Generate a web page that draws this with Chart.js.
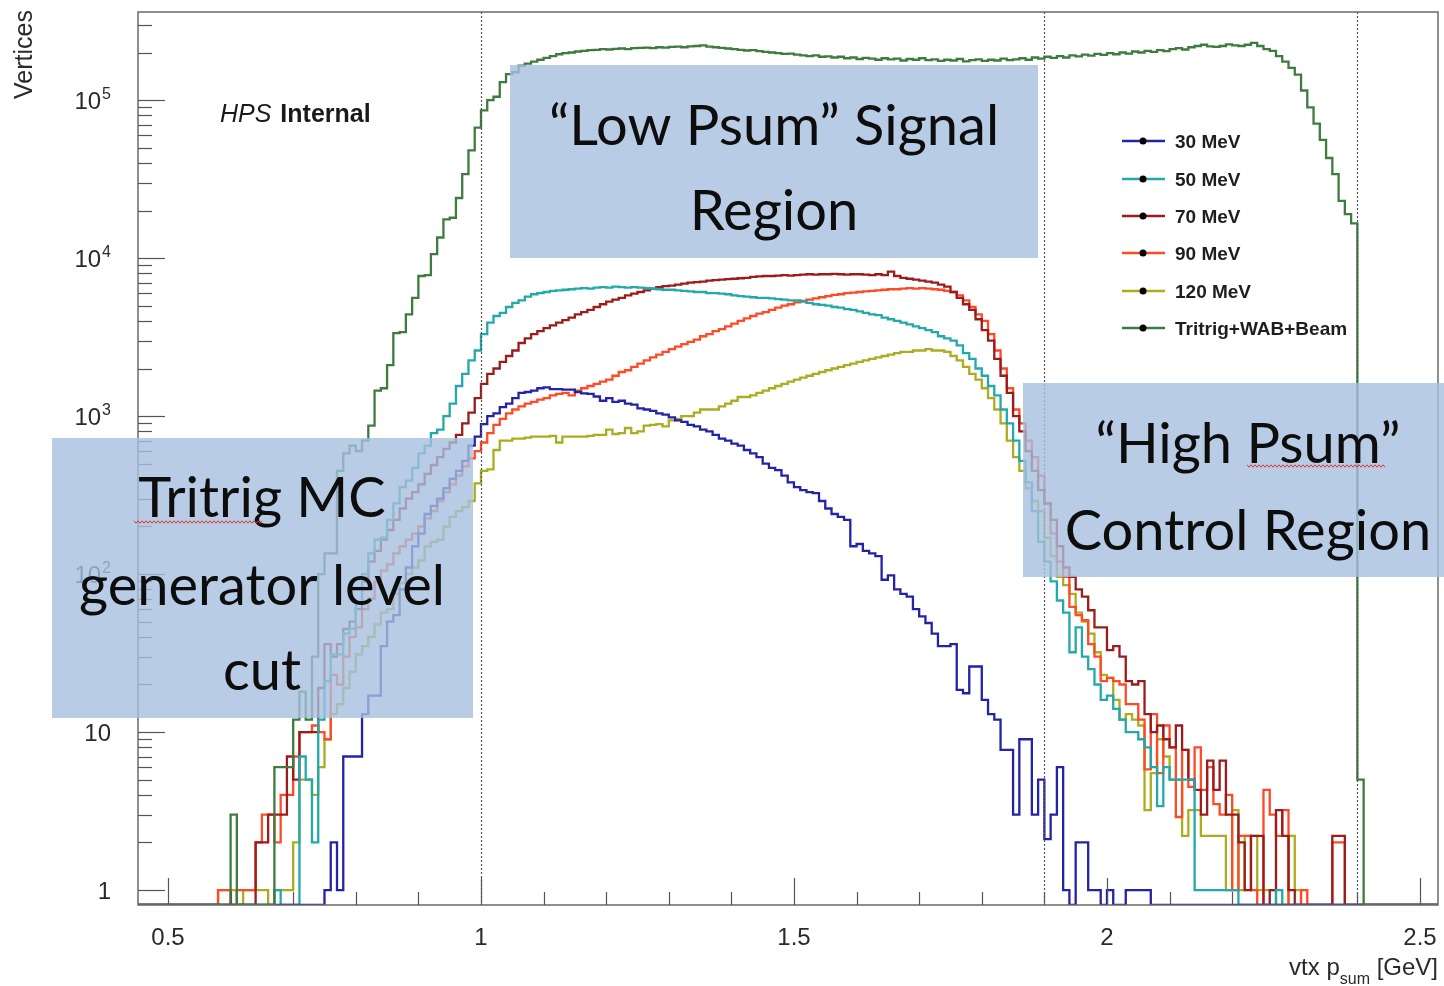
<!DOCTYPE html>
<html lang="en">
<head>
<meta charset="UTF-8">
<title>vtx psum</title>
<script src="https://cdn.jsdelivr.net/npm/chart.js"></script>
<style>
  html, body { margin: 0; padding: 0; background: #fff; }
  canvas { display: block; }
</style>
</head>
<body>
<canvas id="grafico" width="1444" height="986" style="width:1444px;height:986px"></canvas>
<script>
// histogram binning: bin i covers [binStart + i*binWidth, binStart + (i+1)*binWidth)
const binStart = 0.55;
const binWidth = 0.01;

const seriesNames = ['30 MeV', '50 MeV', '70 MeV', '90 MeV', '120 MeV', 'Tritrig+WAB+Beam'];
const seriesColors = ['#2323a6', '#22a9a9', '#9c1c1c', '#ff4a26', '#acac1e', '#3e7b3e'];

// rows of 10 bins, first bin of each row in the comment
const mev30 = [
  0,0,0,0,0,0,0,0,0,0,                                   // 0.55
  0,0,0,0,0,0,0,0,0,0,                                   // 0.65
  1,2,1,7,7,7,13,17,17,35,                               // 0.75
  50,55,80,110,150,180,240,270,300,350,                  // 0.85
  400,450,520,650,740,890,1000,1040,1140,1200,           // 0.95
  1300,1400,1420,1450,1500,1520,1480,1480,1470,1470,     // 1.05
  1420,1390,1380,1330,1250,1300,1230,1250,1200,1180,     // 1.15
  1120,1100,1080,1040,1020,980,940,920,880,860,          // 1.25
  820,800,760,720,700,670,650,610,580,550,               // 1.35
  500,470,455,420,380,355,340,330,325,290,               // 1.45
  260,240,230,220,150,155,140,135,130,92,                // 1.55
  98,80,75,72,60,54,49,42,35,35,                         // 1.65
  36,18.5,17.6,26,26,16,13,12,7.7,7.7,                   // 1.75
  3,9,9,3,5,2.1,3,6,1,0,                                 // 1.85
  2,2,1,1,0,1,0,0,1,1,                                   // 1.95
  1,1,0,0,0,0,0,0,0,0,                                   // 2.05
  0,0,0,0,0,0,0,0,0,0,                                   // 2.15
  0,0,0,0,0,0,0,0,0,0,                                   // 2.25
  0,0,0,0,0,0,0,0,0,0                                    // 2.35
];

const mev50 = [
  0,0,0,0,0,0,0,0,0,0,
  0,0,1,0,0,0,7,5,2,12,
  21,31,31,42,45,65,100,135,165,170,
  220,280,355,390,470,580,650,780,820,1000,
  1200,1550,1850,2250,2600,3300,3900,4300,4500,4900,
  5200,5400,5700,5900,6000,6100,6200,6250,6300,6350,
  6400,6450,6400,6500,6550,6500,6600,6550,6500,6550,
  6500,6450,6400,6350,6300,6300,6250,6200,6150,6100,
  6100,6000,6000,5950,5900,5800,5750,5700,5650,5600,
  5600,5550,5500,5450,5400,5400,5300,5200,5100,5050,
  5000,4900,4850,4750,4700,4600,4500,4400,4350,4200,
  4100,4000,3900,3800,3700,3600,3500,3400,3200,3100,
  3000,2800,2500,2300,2000,1800,1550,1350,1100,900,
  700,520,380,250,160,120,90,68,57,32,
  46,30,25,20,16,17,14,12,10,10,
  9,8,6,3.4,6,5,5,5,5,1,
  1,1,1,1,1,1,0,0,0,0,
  0,0,1,0,0,0,0,0,0,0,
  0,0,0,0,0,0,0,0,0,0
];

const mev70 = [
  0,0,0,0,0,0,0,0,0,2,
  2,3,3,3,7,5,10,10,10,19,
  36,30,36,45,50,60,90,120,140,165,
  190,220,260,300,330,370,430,490,550,620,
  680,760,900,1050,1300,1600,1850,2000,2200,2400,
  2600,2900,3100,3300,3450,3600,3750,3900,4050,4200,
  4400,4550,4700,4900,5100,5300,5450,5600,5800,5950,
  6100,6250,6400,6550,6650,6700,6800,6900,7000,7050,
  7100,7200,7250,7300,7350,7400,7450,7500,7600,7650,
  7700,7700,7750,7800,7750,7800,7850,7900,7850,7900,
  7900,7950,7900,7850,7900,7900,7850,7800,7900,7800,
  8200,7700,7500,7400,7300,7200,7100,7000,6800,6600,
  6100,5600,5100,4700,4100,3500,3000,2300,1800,1400,
  1000,800,600,450,340,280,220,150,110,96,
  80,72,59,46,46,33,35,30,21,20,
  21,13,10,11,9,8,11,7.7,5,4.3,
  3,6.6,4.3,6.6,3,3,2,1,2.2,2.2,
  0,1,3.2,2.2,1,0,0,0,0,0,
  0,2.2,2.2,0,0,0,0,0,0,0
];

const mev90 = [
  0,0,0,1,1,0,1,1,1,2,
  3,3,2,4,4,7,10,10,11,10,
  9,23,20,30,40,46,60,70,90,105,
  115,135,150,165,180,200,225,250,290,330,
  370,420,480,540,600,680,780,880,960,1040,
  1100,1150,1200,1230,1270,1300,1350,1380,1400,1350,
  1450,1500,1550,1600,1650,1700,1800,1900,1950,2050,
  2150,2250,2350,2450,2550,2650,2750,2850,2950,3050,
  3200,3300,3450,3550,3700,3850,4000,4150,4300,4450,
  4550,4700,4850,5000,5100,5250,5350,5450,5550,5650,
  5750,5850,5900,6000,6050,6100,6150,6200,6250,6300,
  6350,6350,6400,6450,6400,6450,6400,6350,6300,6200,
  6100,5800,5400,4900,4400,4000,3300,2600,2000,1500,
  1100,900,700,550,420,280,180,120,96,62,
  55,51,36,30,21,22,21,20,15,15,
  12,5.8,13,5.5,11,8,2.9,7.7,4.5,8,
  4.3,6,3.5,3,4,1,2.2,2.2,1,0,
  4.3,3,2.2,3.2,0,0,1,0,0,0,
  0,2,2,0,0,0,0,0,0,0
];

const mev120 = [
  0,0,0,1,1,1,0,1,1,1,
  1,0,1,1,1,2,5,5,4,6,
  9,13,15,19,24,31,35,40,48,57,
  60,75,88,100,110,122,150,160,165,200,
  230,250,265,290,375,450,460,610,700,700,
  720,720,730,740,740,740,750,680,740,740,
  740,740,750,760,760,820,770,780,840,780,
  800,870,880,890,860,940,960,1000,1000,1050,
  1100,1100,1100,1150,1200,1250,1320,1320,1350,1400,
  1450,1500,1550,1600,1650,1700,1750,1800,1850,1900,
  1950,2000,2050,2100,2150,2200,2250,2300,2350,2400,
  2450,2500,2550,2550,2600,2600,2650,2600,2600,2550,
  2400,2250,2050,1850,1700,1500,1300,1100,900,700,
  550,450,350,290,250,170,130,96,85,75,
  57,50,42,32,23,22,16,12,13,12,
  11,3.2,5.5,9,7,5,5,2.2,3.2,3.2,
  2.2,2.2,2.2,2.2,1,3.2,1,2.2,2.2,1,
  1,1,0,0,2.2,1,0,0,0,0,
  0,0,0,0,0,0,0,0,0,0
];

const background = [
  0,0,0,0,0,3,0,0,0,0,
  0,0,6,6,6,12,18,12,30,100,
  135,135,450,580,650,600,700,870,1450,1500,
  2100,3350,3400,4400,5600,7700,7800,10600,13500,17600,
  18000,24000,34000,48000,67000,86000,100000,105000,130000,146000,
  150000,165000,170000,175000,180000,185000,190000,195000,198000,200000,
  203000,205000,207000,208000,210000,209000,211000,212000,210000,213000,
  214000,215000,213000,216000,215000,217000,218000,216000,219000,220000,
  222000,218000,216000,214000,212000,210000,208000,206000,207000,204000,
  202000,200000,198000,196000,197000,194000,192000,190000,192000,188000,
  189000,186000,188000,184000,186000,182000,185000,183000,180000,184000,
  181000,183000,178000,182000,180000,184000,179000,181000,177000,180000,
  178000,182000,176000,179000,181000,177000,180000,178000,183000,179000,
  181000,184000,180000,186000,183000,188000,185000,190000,186000,192000,
  189000,194000,191000,196000,193000,198000,195000,200000,197000,203000,
  200000,205000,202000,207000,204000,210000,213000,209000,216000,220000,
  224000,219000,217000,220000,225000,222000,220000,224000,230000,220000,
  210000,205000,190000,175000,160000,145000,115000,90000,71000,56000,
  43000,34000,23000,19000,16600,5,0,0,0,0
];

const allSeries = [mev30, mev50, mev70, mev90, mev120, background];

// axis range and region boundaries
const X_MIN = 0.4521, X_MAX = 2.5288;
const Y_MIN = 0.804, Y_MAX = 3.61e5;
const xTickLabels = ['0.5', '1', '1.5', '2', '2.5'];
const regionCuts = [1.0, 1.9, 2.4];

const boxes = [
  { x: 510, y: 65, w: 528, h: 193, cx: 774, lines: [['\u201CLow Psum\u201D Signal', 145], ['Region', 230]] },
  { x: 1023, y: 383, w: 421, h: 194, cx: 1248, lines: [['\u201CHigh Psum\u201D', 463], ['Control Region', 550]] },
  { x: 52, y: 438, w: 421, h: 280, cx: 262, lines: [['Tritrig MC', 517], ['generator level', 605], ['cut', 690]] }
];

function histPoints(values) {
  const pts = [{ x: X_MIN, y: Y_MIN }];
  values.forEach((v, i) => pts.push({ x: binStart + i * binWidth, y: Math.max(v, Y_MIN) }));
  pts.push({ x: binStart + values.length * binWidth, y: Y_MIN });
  pts.push({ x: X_MAX, y: Y_MIN });
  return pts;
}

// background first so it is drawn on top
const order = [5, 0, 1, 2, 3, 4];
const datasets = order.map(k => ({
  label: seriesNames[k],
  data: histPoints(allSeries[k]),
  borderColor: seriesColors[k],
  borderWidth: 2.3,
  stepped: 'before',
  pointRadius: 0,
  fill: false
}));

const SANS = '"Liberation Sans", Arial, Helvetica, sans-serif';

function line(ctx, x1, y1, x2, y2) {
  ctx.beginPath(); ctx.moveTo(x1, y1); ctx.lineTo(x2, y2); ctx.stroke();
}

function wavy(ctx, x1, x2, y) {
  ctx.save();
  ctx.strokeStyle = '#e0322a'; ctx.lineWidth = 1;
  ctx.beginPath();
  for (let px = x1, k = 0; px <= x2; px += 2, k++) {
    const py = y + (k % 2 === 0 ? -1.2 : 1.2);
    if (k === 0) ctx.moveTo(px, py); else ctx.lineTo(px, py);
  }
  ctx.stroke();
  ctx.restore();
}

const rootStyle = {
  id: 'rootStyle',
  afterDatasetsDraw(chart) {
    const { ctx, chartArea: a, scales: { x, y } } = chart;
    ctx.save();

    // region boundaries
    ctx.strokeStyle = '#555'; ctx.lineWidth = 1.2; ctx.setLineDash([2, 2]);
    regionCuts.forEach(v => {
      const px = Math.round(x.getPixelForValue(v)) + 0.5;
      line(ctx, px, a.top, px, a.bottom);
    });
    ctx.setLineDash([]);

    // frame
    ctx.strokeStyle = '#6a6a6a'; ctx.lineWidth = 1.5;
    ctx.strokeRect(a.left, a.top, a.right - a.left, a.bottom - a.top);

    // x ticks
    ctx.strokeStyle = '#555'; ctx.lineWidth = 1.2;
    for (let k = 5; k <= 25; k++) {
      const px = Math.round(x.getPixelForValue(k / 10)) + 0.5;
      line(ctx, px, a.bottom, px, a.bottom - (k % 5 === 0 ? 27 : 13));
    }
    // y ticks
    for (let e = 0; e <= 5; e++) {
      for (let m = 1; m <= 9; m++) {
        const v = m * Math.pow(10, e);
        if (v < Y_MIN || v > Y_MAX) continue;
        const py = Math.round(y.getPixelForValue(v)) + 0.5;
        line(ctx, a.left, py, a.left + (m === 1 ? 27 : 14), py);
      }
    }

    // tick labels
    ctx.fillStyle = '#2a2a2a';
    ctx.font = '24px ' + SANS;
    ctx.textAlign = 'center'; ctx.textBaseline = 'alphabetic';
    xTickLabels.forEach(t => ctx.fillText(t, x.getPixelForValue(parseFloat(t)), 945));

    for (let e = 0; e <= 5; e++) {
      const py = y.getPixelForValue(Math.pow(10, e));
      const right = 111;
      ctx.textAlign = 'right';
      ctx.font = '24px ' + SANS;
      if (e === 0) { ctx.fillText('1', right, py + 9); continue; }
      if (e === 1) { ctx.fillText('10', right, py + 9); continue; }
      ctx.font = '16px ' + SANS;
      const wExp = ctx.measureText(String(e)).width;
      ctx.fillText(String(e), right, py - 1);
      ctx.font = '24px ' + SANS;
      ctx.fillText('10', right - wExp - 1, py + 9);
    }

    // axis titles
    ctx.save();
    ctx.translate(32, 10); ctx.rotate(-Math.PI / 2);
    ctx.textAlign = 'right'; ctx.font = '25px ' + SANS;
    ctx.fillText('Vertices', 0, 0);
    ctx.restore();

    ctx.textAlign = 'left';
    ctx.font = '24px ' + SANS;
    const w1 = ctx.measureText('vtx p').width;
    const w3 = ctx.measureText(' [GeV]').width;
    ctx.font = '16px ' + SANS;
    const w2 = ctx.measureText('sum').width;
    let tx = a.right - (w1 + w2 + w3);
    ctx.font = '24px ' + SANS;
    ctx.fillText('vtx p', tx, 975);
    ctx.font = '16px ' + SANS;
    ctx.fillText('sum', tx + w1, 984);
    ctx.font = '24px ' + SANS;
    ctx.fillText(' [GeV]', tx + w1 + w2, 975);

    // highlighted regions
    boxes.forEach(b => {
      ctx.fillStyle = 'rgba(166, 191, 222, 0.8)';
      ctx.fillRect(b.x, b.y, b.w, b.h);
    });
    ctx.fillStyle = '#0d0d0d';
    ctx.textAlign = 'center';
    ctx.font = '56px Lato, "Open Sans", sans-serif';
    boxes.forEach(b => b.lines.forEach(([t, by]) => ctx.fillText(t, b.cx, by)));
    wavy(ctx, 134, 262, 522);
    wavy(ctx, 1247, 1386, 466);

    // HPS Internal
    ctx.textAlign = 'left'; ctx.fillStyle = '#1a1a1a';
    ctx.font = 'italic 25px ' + SANS;
    ctx.fillText('HPS', 220, 122);
    const wh = ctx.measureText('HPS ').width;
    ctx.font = 'bold 25px ' + SANS;
    ctx.fillText('Internal', 220 + wh + 2, 122);

    // legend
    const rowY = [141, 179, 216, 253, 291, 328];
    seriesNames.forEach((name, k) => {
      const ly = rowY[k];
      ctx.strokeStyle = seriesColors[k]; ctx.lineWidth = 2.5;
      line(ctx, 1122, ly, 1165, ly);
      ctx.fillStyle = '#000';
      ctx.beginPath(); ctx.arc(1143, ly, 3.5, 0, Math.PI * 2); ctx.fill();
      ctx.fillStyle = '#1e1e1e';
      ctx.font = 'bold 19px ' + SANS;
      ctx.fillText(name, 1175, ly + 7);
    });

    ctx.restore();
  }
};

const ctx = document.getElementById('grafico').getContext('2d');
const chart = new Chart(ctx, {
  type: 'line',
  data: { datasets },
  options: {
    responsive: false,
    animation: false,
    devicePixelRatio: 1,
    layout: { padding: { left: 138, top: 12, right: 6, bottom: 81 } },
    scales: {
      x: { type: 'linear', min: X_MIN, max: X_MAX, display: false },
      y: { type: 'logarithmic', min: Y_MIN, max: Y_MAX, display: false }
    },
    plugins: { legend: { display: false }, tooltip: { enabled: false } },
    elements: { line: { tension: 0 }, point: { radius: 0 } }
  },
  plugins: [rootStyle]
});
</script>
</body>
</html>
